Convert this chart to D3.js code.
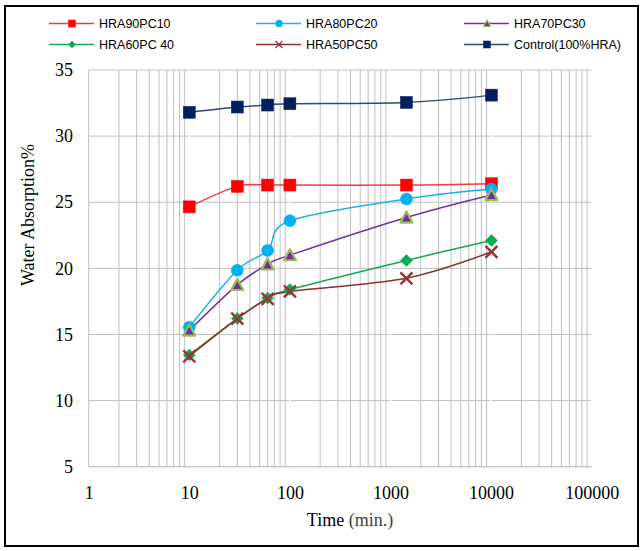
<!DOCTYPE html>
<html>
<head>
<meta charset="utf-8">
<script src="https://cdn.jsdelivr.net/npm/d3@7"></script>
<style>
  html, body { margin: 0; padding: 0; background: #fff; }
  svg { display: block; }
</style>
</head>
<body>
<svg id="chart" width="644" height="551"></svg>
<script>
const times = [10, 30, 60, 100, 1440, 10080];
const hra90pc10 = [24.65, 26.2, 26.3, 26.3, 26.3, 26.4];
const hra80pc20 = [15.55, 19.85, 21.35, 23.6, 25.25, 26.0];
const hra70pc30 = [15.3, 18.75, 20.3, 21.0, 23.85, 25.55];
const hra60pc40 = [13.45, 16.2, 17.75, 18.4, 20.6, 22.1];
const hra50pc50 = [13.35, 16.2, 17.7, 18.25, 19.25, 21.25];
const control = [31.8, 32.2, 32.35, 32.45, 32.55, 33.1];
const seriesNames = ["HRA90PC10", "HRA80PC20", "HRA70PC30", "HRA60PC 40", "HRA50PC50", "Control(100%HRA)"];
const xTicks = [1, 10, 100, 1000, 10000, 100000];
const yTicks = [5, 10, 15, 20, 25, 30, 35];

const series = [
  { name: seriesNames[0], values: hra90pc10, line: "#f03c3c", marker: "square", fill: "#ff0000", stroke: "#ff0000" },
  { name: seriesNames[1], values: hra80pc20, line: "#20aee6", marker: "circle", fill: "#00b0f0", stroke: "#00b0f0" },
  { name: seriesNames[2], values: hra70pc30, line: "#7030a0", marker: "triangle", fill: "#7030a0", stroke: "#9bbb59" },
  { name: seriesNames[3], values: hra60pc40, line: "#1aa84a", marker: "diamond", fill: "#00b050", stroke: "#00b050" },
  { name: seriesNames[4], values: hra50pc50, line: "#8b3030", marker: "x", fill: "none", stroke: "#953735" },
  { name: seriesNames[5], values: control, line: "#2a4a7a", marker: "square", fill: "#002060", stroke: "#002060" }
];

const svg = d3.select("#chart");
const x = d3.scaleLog().domain([1, 100000]).range([88.7, 591.7]);
const y = d3.scaleLinear().domain([5, 35]).range([466.7, 70]);

// outer frame
svg.append("rect").attr("x", 5).attr("y", 6).attr("width", 633).attr("height", 540)
  .attr("fill", "none").attr("stroke", "#000").attr("stroke-width", 2);

const grid = svg.append("g");
// minor vertical gridlines
const minor = [];
for (let d = 0; d < 5; d++) for (let k = 2; k <= 9; k++) minor.push(k * Math.pow(10, d));
grid.selectAll(".vminor").data(minor).join("line")
  .attr("x1", d => x(d)).attr("x2", d => x(d))
  .attr("y1", y(35)).attr("y2", y(5))
  .attr("stroke", "#bfbfbf").attr("stroke-width", 1);
// horizontal gridlines
grid.selectAll(".h").data(yTicks).join("line")
  .attr("x1", x(1)).attr("x2", x(100000))
  .attr("y1", d => y(d)).attr("y2", d => y(d))
  .attr("stroke", "#bfbfbf").attr("stroke-width", 1);
// major vertical gridlines (white)
grid.selectAll(".vmajor").data(xTicks.slice(1)).join("line")
  .attr("x1", d => x(d)).attr("x2", d => x(d))
  .attr("y1", y(35)).attr("y2", y(5))
  .attr("stroke", "#ffffff").attr("stroke-width", 1.5);
// left axis line
grid.append("line").attr("x1", x(1)).attr("x2", x(1)).attr("y1", y(35)).attr("y2", y(5))
  .attr("stroke", "#bfbfbf").attr("stroke-width", 1);
grid.append("line").attr("x1", x(1)).attr("x2", x(100000)).attr("y1", y(5)).attr("y2", y(5))
  .attr("stroke", "#bfbfbf").attr("stroke-width", 1);

// axes labels
const xAxis = d3.axisBottom(x).tickValues(xTicks).tickFormat(d3.format("d")).tickSize(0).tickPadding(20);
const gx = svg.append("g").attr("transform", `translate(0,${y(5)})`).call(xAxis);
gx.select(".domain").remove();
gx.selectAll("text").attr("font-family", "'Liberation Serif', 'Times New Roman', serif")
  .attr("font-size", 18).attr("fill", "#000");

const yAxis = d3.axisLeft(y).tickValues(yTicks).tickSize(0).tickPadding(15.7);
const gy = svg.append("g").attr("transform", `translate(${x(1)},0)`).call(yAxis);
gy.select(".domain").remove();
gy.selectAll("text").attr("font-family", "'Liberation Serif', 'Times New Roman', serif")
  .attr("font-size", 18).attr("fill", "#000");

// titles
const xt = svg.append("text").attr("x", 350).attr("y", 526).attr("text-anchor", "middle")
  .attr("font-family", "'Liberation Serif', 'Times New Roman', serif").attr("font-size", 18);
xt.append("tspan").attr("fill", "#000").text("Time ");
xt.append("tspan").attr("fill", "#404040").text("(min.)");

svg.append("text").attr("transform", "translate(34,215) rotate(-90)").attr("text-anchor", "middle")
  .attr("font-family", "'Liberation Serif', 'Times New Roman', serif").attr("font-size", 18)
  .attr("fill", "#000").text("Water Absorption%");

// marker drawing
function drawMarker(g, type, size, fill, stroke) {
  const h = size / 2;
  if (type === "square") {
    g.append("rect").attr("x", -h).attr("y", -h).attr("width", size).attr("height", size)
      .attr("fill", fill).attr("stroke", stroke).attr("stroke-width", 0.5);
  } else if (type === "circle") {
    g.append("circle").attr("r", h).attr("fill", fill).attr("stroke", stroke).attr("stroke-width", 0.5);
  } else if (type === "triangle") {
    const sw = size > 8 ? 2.2 : 1.2;
    g.append("path").attr("d", `M0,${-h}L${h},${h * 0.85}L${-h},${h * 0.85}Z`)
      .attr("fill", fill).attr("stroke", stroke).attr("stroke-width", sw).attr("stroke-linejoin", "round");
  } else if (type === "diamond") {
    g.append("path").attr("d", `M0,${-h}L${h},0L0,${h}L${-h},0Z`)
      .attr("fill", fill).attr("stroke", stroke).attr("stroke-width", 0.5);
  } else if (type === "x") {
    const sw = size > 8 ? 2.5 : 1.3;
    g.append("path").attr("d", `M${-h},${-h}L${h},${h}M${-h},${h}L${h},${-h}`)
      .attr("fill", "none").attr("stroke", stroke).attr("stroke-width", sw);
  }
}

const lineGen = d3.line()
  .x(d => x(d[0])).y(d => y(d[1]))
  .curve(d3.curveCardinal.tension(0));

const plot = svg.append("g");
series.forEach(s => {
  const pts = times.map((t, i) => [t, s.values[i]]);
  plot.append("path").datum(pts).attr("d", lineGen)
    .attr("fill", "none").attr("stroke", s.line).attr("stroke-width", 1.5);
});
series.forEach(s => {
  const pts = times.map((t, i) => [t, s.values[i]]);
  pts.forEach(p => {
    const g = plot.append("g").attr("transform", `translate(${x(p[0])},${y(p[1])})`);
    drawMarker(g, s.marker, 12, s.fill, s.stroke);
  });
});

// legend
const legCols = [49, 256, 464];
const legRows = [23.5, 44.5];
series.forEach((s, i) => {
  const col = i % 3, row = Math.floor(i / 3);
  const g = svg.append("g").attr("transform", `translate(${legCols[col]},${legRows[row]})`);
  g.append("line").attr("x1", 0).attr("x2", 45).attr("y1", 0).attr("y2", 0)
    .attr("stroke", s.line).attr("stroke-width", 1.5);
  const m = g.append("g").attr("transform", "translate(23,0)");
  drawMarker(m, s.marker, 7, s.fill, s.stroke);
  g.append("text").attr("x", 50).attr("y", 0).attr("dy", "0.35em")
    .attr("font-family", "'Liberation Sans', Arial, sans-serif").attr("font-size", 12.5)
    .attr("fill", "#000").text(s.name);
});
</script>
</body>
</html>
